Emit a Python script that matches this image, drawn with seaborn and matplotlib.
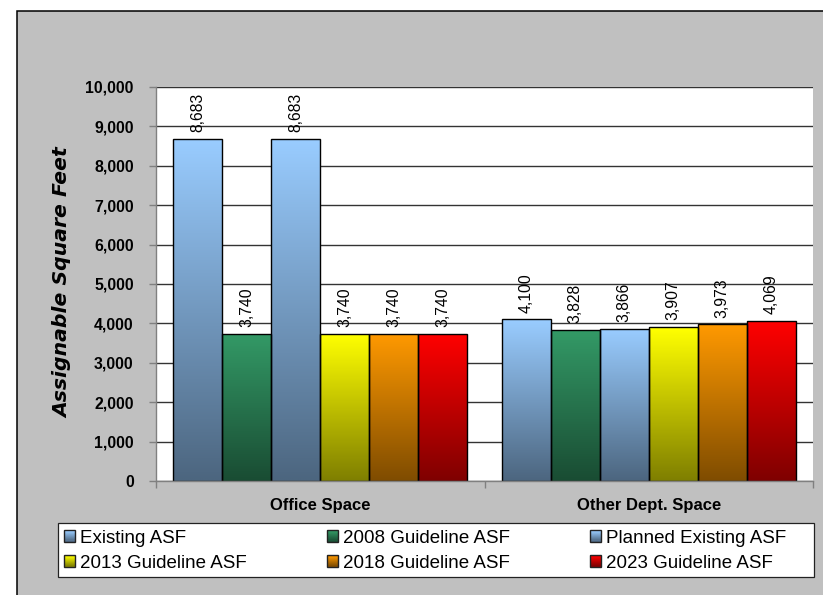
import numpy as np
import pandas as pd
import matplotlib
matplotlib.use("Agg")
import matplotlib.pyplot as plt
import seaborn as sns
from matplotlib import font_manager
from matplotlib.patches import Rectangle
from matplotlib.legend_handler import HandlerBase
from matplotlib.colors import to_rgb

# ---- data -------------------------------------------------------------
categories = ["Office Space", "Other Dept. Space"]
series = ["Existing ASF", "2008 Guideline ASF", "Planned Existing ASF",
          "2013 Guideline ASF", "2018 Guideline ASF", "2023 Guideline ASF"]
existing_asf = [8683, 4100]
guideline_2008 = [3740, 3828]
planned_existing_asf = [8683, 3866]
guideline_2013 = [3740, 3907]
guideline_2018 = [3740, 3973]
guideline_2023 = [3740, 4069]
y_ticks = list(range(0, 10001, 1000))

series_values = [existing_asf, guideline_2008, planned_existing_asf,
                 guideline_2013, guideline_2018, guideline_2023]
top_colors = ["#99CCFF", "#339966", "#99CCFF", "#FFFF00", "#FF9900", "#FF0000"]

df = pd.DataFrame(
    [(cat, s, vals[i]) for s, vals in zip(series, series_values)
     for i, cat in enumerate(categories)],
    columns=["space", "series", "asf"],
)

# ---- fonts ------------------------------------------------------------
available = {f.name for f in font_manager.fontManager.ttflist}
if "Liberation Sans Narrow" in available:
    num_family, k = "Liberation Sans Narrow", 1.0
else:
    num_family, k = "Liberation Sans", 0.82

W, H = 823, 595
fig = plt.figure(figsize=(W / 100, H / 100), dpi=100)
fig.patch.set_facecolor("white")

# grey chart area with its frame
fig.patches.append(Rectangle((17 / W, -0.05), 1.2, 1 - 11 / H + 0.05,
                             transform=fig.transFigure, facecolor="#C0C0C0",
                             edgecolor="black", lw=1.1, zorder=-10))

ax = fig.add_axes([156 / W, 1 - 481 / H, 657 / W, 394 / H])
ax.set_facecolor("white")

sns.barplot(data=df, x="space", y="asf", hue="series", hue_order=series,
            order=categories, palette=top_colors, width=0.894, gap=0,
            edgecolor="black", linewidth=1.0, legend=False, ax=ax)


def shade(color, n=64):
    top = np.array(to_rgb(color))
    bottom = top * 0.5
    t = np.linspace(0, 1, n)[:, None]
    return (top * (1 - t) + bottom * t)[:, None, :]


# vertical gradient fill for every bar
for container, color in zip(ax.containers, top_colors):
    for patch in container.patches:
        x0, y0 = patch.get_x(), patch.get_y()
        w, h = patch.get_width(), patch.get_height()
        im = ax.imshow(shade(color), extent=[x0, x0 + w, y0, y0 + h],
                       aspect="auto", origin="upper", zorder=1.5,
                       interpolation="bilinear")
        im.set_clip_path(patch)
        patch.set_facecolor("none")
        patch.set_zorder(2)
    ax.bar_label(container, labels=[f"{v:,.0f}" for v in container.datavalues],
                 rotation=90, padding=5, fontsize=13.8 * k,
                 family=num_family, color="black")

ax.set_xlim(-0.5, 1.5)
ax.set_ylim(0, 10000)
ax.set_yticks(y_ticks)
ax.set_yticklabels([f"{v:,}" for v in y_ticks], family=num_family,
                   fontsize=14 * k, fontweight="bold")
ax.yaxis.grid(True, color="#333333", lw=1.0)
ax.set_axisbelow(True)
ax.tick_params(axis="y", length=5, width=1, color="#808080", pad=11)

ax.set_xticks([0, 1])
ax.set_xticklabels(categories, family=num_family, fontsize=12,
                   fontweight="bold")
ax.set_xticks([-0.5, 0.5, 1.5], minor=True)
ax.tick_params(axis="x", which="major", length=0, pad=12)
ax.tick_params(axis="x", which="minor", length=5, width=1, color="#808080")
ax.set_xlabel("")
ax.set_ylabel("")

for side in ("top", "right"):
    ax.spines[side].set_visible(False)
for side in ("left", "bottom"):
    ax.spines[side].set_color("#808080")
    ax.spines[side].set_linewidth(1.0)

fig.text(63 / W, 1 - 283 / H, "Assignable Square Feet", rotation=90,
         ha="center", va="center", family="DejaVu Sans", fontweight="bold",
         style="italic", fontsize=14.7)


# ---- legend with gradient swatches -----------------------------------
class GradientSwatch(HandlerBase):
    def __init__(self, color):
        super().__init__()
        self.color = color

    def create_artists(self, legend, orig_handle, xdescent, ydescent,
                       width, height, fontsize, trans):
        top = np.array(to_rgb(self.color))
        bottom = top * 0.5
        side = min(width, height)
        x0 = -xdescent + (width - side) / 2
        y0 = -ydescent + (height - side) / 2
        n = 10
        arts = []
        for i in range(n):
            t = (i + 0.5) / n
            c = top * (1 - t) + bottom * t
            arts.append(Rectangle((x0, y0 + side * (1 - (i + 1) / n)), side,
                                  side / n, facecolor=c, edgecolor="none",
                                  transform=trans))
        arts.append(Rectangle((x0, y0), side, side, facecolor="none",
                              edgecolor="#222222", lw=1, transform=trans))
        return arts


# legend box
fig.patches.append(Rectangle((58 / W, 1 - 577 / H), (814 - 58) / W, 54 / H,
                             transform=fig.transFigure, facecolor="white",
                             edgecolor="#222222", lw=0.9, zorder=-5))

swatches = [Rectangle((0, 0), 1, 1) for _ in series]
handler_map = {h: GradientSwatch(c) for h, c in zip(swatches, top_colors)}
order = [0, 3, 1, 4, 2, 5]
leg = fig.legend([swatches[i] for i in order], [series[i] for i in order],
                 handler_map=handler_map, ncol=3, loc="upper left",
                 bbox_to_anchor=(58 / W, 1 - 524 / H, (792 - 58) / W, 0.0),
                 mode="expand", borderaxespad=0, frameon=False,
                 prop={"family": "Liberation Sans", "size": 13.5},
                 handlelength=0.6, handleheight=0.6, handletextpad=0.25,
                 labelspacing=0.42, borderpad=0.3, columnspacing=1.0)

fig.savefig("out.png", dpi=100)
